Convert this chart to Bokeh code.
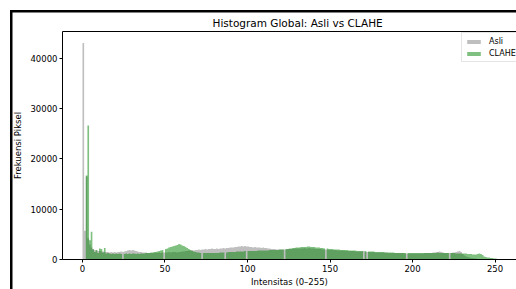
from bokeh.plotting import figure
from bokeh.models import (Range1d, LinearAxis, FixedTicker, Legend, LegendItem,
                          ColumnDataSource)
from bokeh.embed import file_html
from bokeh.resources import INLINE

intensities = list(range(256))

asli = [
    43000, 5700, 16500, 4200, 3000, 2400, 2100, 1900, 1800, 1700,
    1700, 1600, 1600, 1500, 1500, 1500, 1400, 1500, 1400, 1500,
    1400, 1500, 1500, 1600, 1500, 1600, 1700, 1800, 1900, 1800,
    1900, 1800, 1700, 1600, 1500, 1500, 1400, 1400, 1400, 1300,
    1300, 1300, 1300, 1300, 1400, 1300, 1400, 1300, 1400, 1400,
    1400, 1400, 1500, 1400, 1500, 1500, 1500, 1400, 1500, 1500,
    1600, 1600, 1700, 1700, 1800, 1800, 1900, 1800, 1900, 1900,
    2000, 1900, 2000, 2000, 2100, 2000, 2100, 2100, 2200, 2100,
    2100, 2200, 2100, 2200, 2200, 2300, 2200, 2300, 2300, 2400,
    2400, 2400, 2500, 2500, 2600, 2600, 2700, 2600, 2700, 2600,
    2600, 2500, 2500, 2400, 2500, 2400, 2400, 2400, 2300, 2400,
    2300, 2300, 2200, 2200, 2100, 2100, 2100, 2000, 2000, 2000,
    2000, 2000, 2000, 2000, 2100, 2100, 2100, 2100, 2200, 2200,
    2200, 2200, 2200, 2200, 2300, 2200, 2200, 2300, 2200, 2200,
    2200, 2100, 2100, 2100, 2100, 2000, 2000, 2000, 2000, 1900,
    1900, 1900, 1900, 1900, 1800, 1800, 1800, 1800, 1800, 1700,
    1700, 1700, 1700, 1700, 1700, 1600, 1600, 1600, 1600, 1600,
    1700, 1500, 1500, 1500, 1500, 1500, 1500, 1400, 1400, 1400,
    1400, 1400, 1400, 1400, 1400, 1300, 1300, 1300, 1300, 1300,
    1300, 1300, 1300, 1300, 1300, 1200, 1200, 1200, 1200, 1200,
    1200, 1200, 1200, 1200, 1200, 1200, 1200, 1300, 1300, 1300,
    1300, 1300, 1400, 1400, 1500, 1500, 1600, 1500, 1400, 1300,
    1300, 1300, 1300, 1300, 1400, 1400, 1500, 1600, 1700, 1500,
    1100, 800, 600, 500, 400, 300, 300, 200, 200, 100,
    100, 100, 100, 0, 0, 0, 0, 0, 0, 0,
    0, 0, 0, 0, 0, 0,
]

clahe = [
    0, 0, 16700, 26600, 3800, 5500, 2000, 1500, 1900, 1300,
    2200, 2100, 1400, 2300, 1200, 1300, 1200, 1100, 1200, 1100,
    1200, 1100, 1200, 1100, 0, 1100, 1200, 1100, 1200, 1100,
    1200, 1200, 1100, 1200, 1100, 1200, 1200, 1200, 1300, 1300,
    1300, 1400, 1400, 1500, 1500, 1600, 1700, 1800, 1900, 0,
    2100, 2200, 2400, 2500, 2600, 2700, 2800, 2900, 3100, 3000,
    2800, 2700, 2500, 2300, 2100, 1900, 1700, 1600, 1500, 1400,
    1400, 1300, 0, 1300, 1300, 1300, 1300, 1300, 1300, 1300,
    1300, 1300, 1300, 1400, 1400, 1400, 0, 1400, 1500, 1500,
    1500, 1500, 1500, 1600, 1600, 1600, 1600, 1600, 1700, 0,
    1700, 1700, 1700, 1700, 1700, 1700, 1800, 1800, 1800, 1800,
    1800, 1800, 1800, 1900, 1900, 1900, 1900, 1900, 1900, 2000,
    2000, 2000, 0, 2100, 2100, 2200, 2200, 2300, 2300, 2400,
    2400, 2400, 2500, 2500, 2500, 2500, 2600, 2600, 2500, 2500,
    2500, 2400, 2400, 2400, 2300, 2300, 2200, 0, 2200, 2100,
    2100, 2100, 2000, 2000, 2000, 2000, 1900, 1900, 1900, 1900,
    1900, 1800, 1800, 1800, 1800, 1800, 1700, 1700, 1700, 1700,
    0, 1700, 0, 1600, 1600, 1600, 1600, 1500, 1500, 1500,
    1500, 1500, 1500, 1400, 1400, 1400, 1400, 1400, 1400, 1300,
    1300, 1300, 1300, 1300, 1300, 1300, 0, 1300, 1300, 1300,
    1300, 1300, 1300, 1300, 1300, 1300, 1300, 1300, 1300, 1300,
    1300, 1300, 1300, 1300, 1300, 1400, 1300, 1300, 1300, 1300,
    1300, 1300, 0, 1300, 1300, 1300, 1200, 1200, 1200, 1200,
    1200, 1200, 1200, 1100, 1100, 1100, 1000, 1000, 1000, 1100,
    1200, 1100, 900, 600, 500, 400, 400, 300, 300, 200,
    200, 100, 0, 0, 0, 0,
]

x_ticks = [0, 50, 100, 150, 200, 250]
y_ticks = [0, 10000, 20000, 30000, 40000]

FONT = "DejaVu Sans"

# step areas: each count holds from its bin's left edge to the next edge
edges = intensities + [intensities[-1] + 1]
src = ColumnDataSource(dict(
    x=edges,
    asli=asli + [asli[-1]],
    clahe=clahe + [clahe[-1]],
    zero=[0] * len(edges),
))

p = figure(
    width=516, height=289,
    output_backend="svg", toolbar_location=None,
    x_range=Range1d(-12.1, 263), y_range=Range1d(0, 45300),
    min_border_left=62, min_border_right=0, min_border_top=31, min_border_bottom=29,
    x_axis_label="Intensitas (0–255)", y_axis_label="Frekuensi Piksel",
)
# outer black frame of the picture (left and top edges), drawn behind a transparent border area
p.styles = {
    "background-color": "white",
    "background-image": "linear-gradient(black, black), linear-gradient(black, black)",
    "background-size": "2.5px 279px, 506px 2.5px",
    "background-position": "10px 10px, 10px 10px",
    "background-repeat": "no-repeat",
}

r1 = p.varea_step(x="x", y1="zero", y2="asli", step_mode="after", source=src,
                  fill_color="gray", fill_alpha=0.5)
r2 = p.varea_step(x="x", y1="zero", y2="clahe", step_mode="after", source=src,
                  fill_color="green", fill_alpha=0.5)

p.title.text = "Histogram Global: Asli vs CLAHE"
p.title.text_font = FONT
p.title.text_font_size = "10.5px"
p.title.text_font_style = "normal"
p.title.text_color = "black"
p.title.align = "left"
p.title.offset = 150
p.title.standoff = 5

p.xgrid.visible = False
p.ygrid.visible = False
p.outline_line_color = None
p.background_fill_color = "white"
p.border_fill_alpha = 0

for ax in (p.xaxis[0], p.yaxis[0]):
    ax.axis_line_color = "black"
    ax.major_tick_line_color = "black"
    ax.major_tick_out = 3
    ax.major_tick_in = 0
    ax.minor_tick_line_color = None
    ax.major_label_text_font = FONT
    ax.major_label_text_font_size = "8.5px"
    ax.major_label_text_color = "black"
    ax.axis_label_text_font = FONT
    ax.axis_label_text_font_size = "8.5px"
    ax.axis_label_text_font_style = "normal"
    ax.axis_label_text_color = "black"
    ax.major_label_standoff = 2
    ax.axis_label_standoff = 2

p.xaxis[0].ticker = FixedTicker(ticks=x_ticks)
p.yaxis[0].ticker = FixedTicker(ticks=y_ticks)
p.yaxis[0].formatter.use_scientific = False
p.yaxis[0].axis_label_standoff = 4

top_axis = LinearAxis(
    axis_line_color="black", major_tick_line_color=None, minor_tick_line_color=None,
    major_label_text_font_size="0px", ticker=FixedTicker(ticks=[]),
)
p.add_layout(top_axis, "above")

legend = Legend(
    items=[LegendItem(label="Asli", renderers=[r1]), LegendItem(label="CLAHE", renderers=[r2])],
    location=(399, 197),
    label_text_font=FONT, label_text_font_size="8px", label_text_color="black",
    glyph_width=17, glyph_height=5, label_height=10, label_standoff=7,
    spacing=2, padding=3, margin=0,
    border_line_color="#cccccc", background_fill_alpha=0.8,
)
p.add_layout(legend, "center")

open("out.html", "w").write(file_html(p, INLINE))
